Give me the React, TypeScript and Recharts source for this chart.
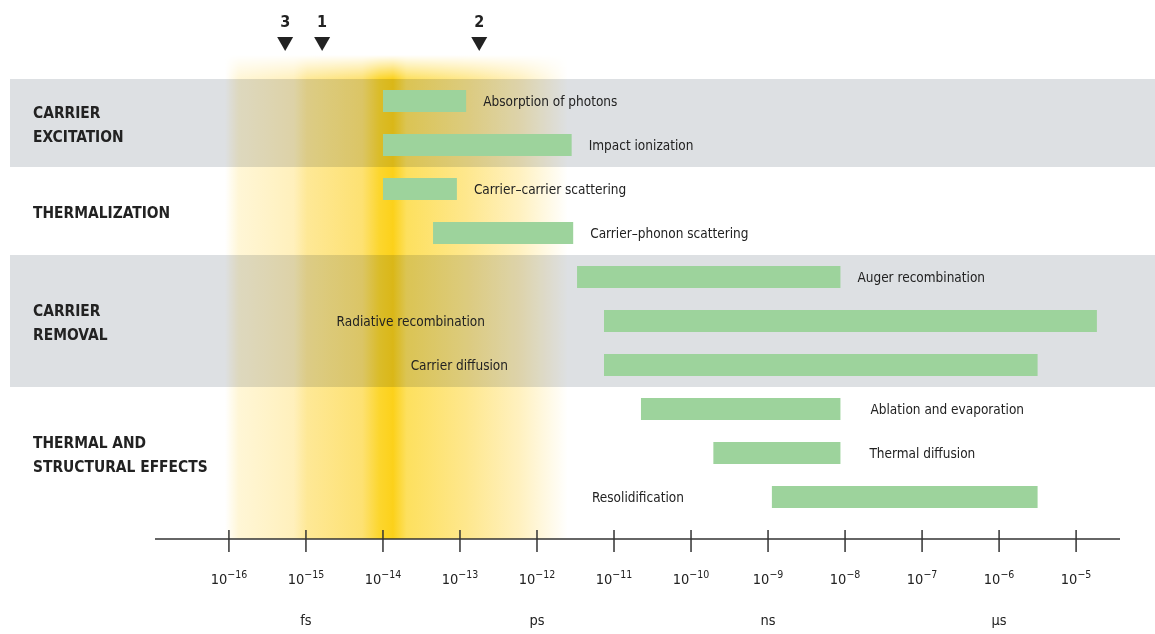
import React from 'react';
import {
  BarChart,
  Bar,
  XAxis,
  YAxis,
  ReferenceArea,
  ReferenceLine,
  LabelList,
} from 'recharts';

// Processes, top to bottom; durations are log10(time in seconds)
const processes = [
  'Absorption of photons',
  'Impact ionization',
  'Carrier–carrier scattering',
  'Carrier–phonon scattering',
  'Auger recombination',
  'Radiative recombination',
  'Carrier diffusion',
  'Ablation and evaporation',
  'Thermal diffusion',
  'Resolidification',
];
const startExp = [-14, -14, -14, -13.35, -11.48, -11.13, -11.13, -10.65, -9.71, -8.95];
const endExp = [-12.92, -11.55, -13.04, -11.53, -8.06, -4.73, -5.5, -8.06, -8.06, -5.5];

// Regime groups
const groupLines = [['CARRIER', 'EXCITATION'], ['THERMALIZATION'], ['CARRIER', 'REMOVAL'], ['THERMAL AND', 'STRUCTURAL EFFECTS']];
const groupFirst = ['Absorption of photons', 'Carrier–carrier scattering', 'Auger recombination', 'Ablation and evaporation'];
const groupLast = ['Impact ionization', 'Carrier–phonon scattering', 'Carrier diffusion', 'Resolidification'];
const groupShaded = [true, false, true, false];

// Axis
const tickExps = [-16, -15, -14, -13, -12, -11, -10, -9, -8, -7, -6, -5];
const unitExps = [-15, -12, -9, -6];
const unitLabels = ['fs', 'ps', 'ns', 'µs'];

// Pulse duration markers and the laser pulse band
const markerLabels = ['3', '1', '2'];
const markerExps = [-15.27, -14.79, -12.75];
const pulseFrom = -16.05;
const pulseTo = -11.6;

// label placement (layout only)
const labelLeft: Record<string, number> = {
  'Radiative recombination': 119,
  'Carrier diffusion': 96,
  'Resolidification': 88,
};
const labelRight: Record<string, number> = {
  'Ablation and evaporation': 30,
  'Thermal diffusion': 29,
};

const FONT = '"Liberation Sans Narrow", "DejaVu Sans Condensed", "Arial Narrow", sans-serif';
const GRAY = '#dde0e3';
const GREEN = '#9dd39c';
const INK = '#222';

const data = processes.map((name, i) => ({
  name,
  range: [startExp[i], endExp[i]],
}));

const BarLabel = (props: any) => {
  const { x, y, width, height, value } = props;
  const cy = y + height / 2 + 5;
  if (labelLeft[value] !== undefined) {
    return (
      <text x={x - labelLeft[value]} y={cy} textAnchor="end" fontSize={13.5} fill={INK} fontFamily={FONT}>
        {value}
      </text>
    );
  }
  const gap = labelRight[value] ?? 17;
  return (
    <text x={x + width + gap} y={cy} textAnchor="start" fontSize={13.5} fill={INK} fontFamily={FONT}>
      {value}
    </text>
  );
};

const TimeTick = (props: any) => {
  const { x, y, payload } = props;
  const v = payload.value;
  const u = unitExps.indexOf(v);
  return (
    <g>
      <line x1={x} x2={x} y1={y - 9} y2={y + 13} stroke="#333" strokeWidth={1.5} />
      <text x={x} y={y + 45} textAnchor="middle" fontSize={14.5} fill={INK} fontFamily={FONT}>
        10
        <tspan dy={-6} fontSize={10.5}>
          −{Math.abs(v)}
        </tspan>
      </text>
      {u >= 0 && (
        <text x={x} y={y + 86} textAnchor="middle" fontSize={14.5} fill={INK} fontFamily={FONT}>
          {unitLabels[u]}
        </text>
      )}
    </g>
  );
};

const groupShape = (i: number) => (p: any) => {
  const lines = groupLines[i];
  const mid = p.y + p.height / 2 + 2;
  return (
    <g>
      {groupShaded[i] && <rect x={10} y={p.y} width={1145} height={p.height} fill={GRAY} />}
      {lines.map((t, k) => (
        <text
          key={t}
          x={33}
          y={mid + (k - (lines.length - 1) / 2) * 24 + 5}
          fontSize={15.4}
          fontWeight="bold"
          fill={INK}
          fontFamily={FONT}
        >
          {t}
        </text>
      ))}
    </g>
  );
};

const PulseBand = (p: any) => {
  const top = p.y - 24;
  const h = p.height + 44;
  return (
    <g>
      <defs>
        <linearGradient id="pulseGrad" x1="0" y1="0" x2="1" y2="0">
          <stop offset="0" stopColor="#ffffff" />
          <stop offset="0.04" stopColor="#fff6d6" />
          <stop offset="0.2" stopColor="#fff0bc" />
          <stop offset="0.24" stopColor="#fee896" />
          <stop offset="0.4" stopColor="#fde172" />
          <stop offset="0.45" stopColor="#fcd62e" />
          <stop offset="0.49" stopColor="#fcd11a" />
          <stop offset="0.53" stopColor="#fde05e" />
          <stop offset="0.7" stopColor="#fee78c" />
          <stop offset="0.86" stopColor="#fff1c0" />
          <stop offset="1" stopColor="#ffffff" />
        </linearGradient>
        <linearGradient id="pulseFade" x1="0" y1="0" x2="0" y2="1">
          <stop offset="0" stopColor="#000" />
          <stop offset="0.05" stopColor="#fff" />
          <stop offset="1" stopColor="#fff" />
        </linearGradient>
        <mask id="pulseMask" maskUnits="userSpaceOnUse" x={p.x} y={top} width={p.width} height={h}>
          <rect x={p.x} y={top} width={p.width} height={h} fill="url(#pulseFade)" />
        </mask>
      </defs>
      <rect
        x={p.x}
        y={top}
        width={p.width}
        height={h}
        fill="url(#pulseGrad)"
        mask="url(#pulseMask)"
        style={{ mixBlendMode: 'multiply' }}
      />
    </g>
  );
};

const markerShape = (label: string) => (p: any) => {
  const x = p.x1;
  const top = Math.min(p.y1, p.y2);
  return (
    <g>
      <text x={x} y={top - 52} textAnchor="middle" fontSize={16} fontWeight="bold" fill={INK} fontFamily={FONT}>
        {label}
      </text>
      <path d={`M${x - 8},${top - 42} L${x + 8},${top - 42} L${x},${top - 28} Z`} fill={INK} />
    </g>
  );
};

export default function App() {
  return (
    <div style={{ width: 1155, height: 634, background: '#fff' }}>
      <style>{'body{margin:0}'}</style>
      <BarChart
        width={1155}
        height={634}
        data={data}
        layout="vertical"
        margin={{ top: 79, right: 35, bottom: 0, left: 155 }}
        barSize={22}
      >
        <XAxis
          type="number"
          domain={[-16.96, -4.43]}
          ticks={tickExps}
          allowDataOverflow
          height={95}
          axisLine={{ stroke: '#333', strokeWidth: 1.5 }}
          tickLine={false}
          tickSize={0}
          tickMargin={0}
          tick={<TimeTick />}
          interval={0}
        />
        <YAxis type="category" dataKey="name" hide padding={{ top: 0, bottom: 20 }} />
        {groupLines.map((_, i) => (
          <ReferenceArea
            key={i}
            y1={groupFirst[i]}
            y2={groupLast[i]}
            ifOverflow="visible"
            shape={groupShape(i)}
            zIndex={-60}
          />
        ))}
        <ReferenceArea x1={pulseFrom} x2={pulseTo} ifOverflow="visible" shape={PulseBand} zIndex={-55} />
        {markerExps.map((m, i) => (
          <ReferenceLine key={i} x={m} ifOverflow="visible" shape={markerShape(markerLabels[i])} />
        ))}
        <Bar dataKey="range" fill={GREEN} isAnimationActive={false}>
          <LabelList dataKey="name" content={<BarLabel />} />
        </Bar>
      </BarChart>
    </div>
  );
}
